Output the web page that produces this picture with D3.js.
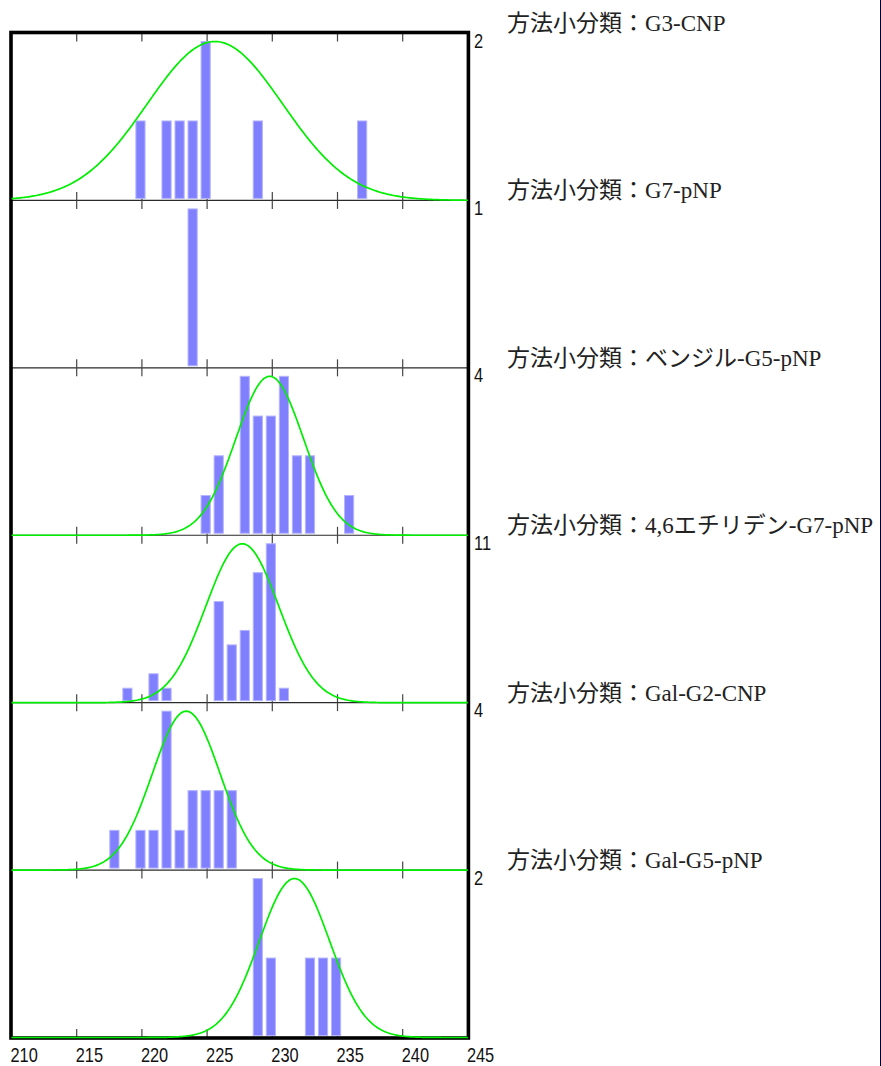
<!DOCTYPE html>
<html>
<head>
<meta charset="utf-8">
<script src="https://cdn.jsdelivr.net/npm/d3@7"></script>
<style>
  html, body { margin: 0; padding: 0; background: #fff; }
  svg { display: block; }
  .num { font-family: "Liberation Sans", "DejaVu Sans", sans-serif; font-size: 20px; fill: #111; }
  .method { font-family: "Liberation Serif", "Noto Sans CJK JP", serif; font-size: 23px; fill: #222; }
</style>
</head>
<body>
<svg id="chart" width="881" height="1066"></svg>
<script>
// Method sub-categories (one histogram panel each)
const methodNames = ["G3-CNP", "G7-pNP", "ベンジル-G5-pNP", "4,6エチリデン-G7-pNP", "Gal-G2-CNP", "Gal-G5-pNP"];
const labelPrefix = "方法小分類：";

// Histogram bins (measured value) and counts per method
const g3cnpBins   = [220, 222, 223, 224, 225, 229, 237];
const g3cnpCounts = [1, 1, 1, 1, 2, 1, 1];

const g7pnpBins   = [224];
const g7pnpCounts = [1];

const benzylBins   = [225, 226, 228, 229, 230, 231, 232, 233, 236];
const benzylCounts = [1, 2, 4, 3, 3, 4, 2, 2, 1];

const ethylideneBins   = [219, 221, 222, 226, 227, 228, 229, 230, 231];
const ethylideneCounts = [1, 2, 1, 7, 4, 5, 9, 11, 1];

const galG2Bins   = [218, 220, 221, 222, 223, 224, 225, 226, 227];
const galG2Counts = [1, 1, 1, 4, 1, 2, 2, 2, 2];

const galG5Bins   = [229, 230, 233, 234, 235];
const galG5Counts = [2, 1, 1, 1, 1];

// Fitted normal curve parameters (null = no curve drawn)
const fitMeans = [225.6, null, 229.8, 227.7, 223.4, 231.7];
const fitSDs   = [5.2,   null, 2.6,   2.8,   2.6,   2.7];

// Shared x axis ticks
const xTicks = [210, 215, 220, 225, 230, 235, 240, 245];

const panelBins   = [g3cnpBins, g7pnpBins, benzylBins, ethylideneBins, galG2Bins, galG5Bins];
const panelCounts = [g3cnpCounts, g7pnpCounts, benzylCounts, ethylideneCounts, galG2Counts, galG5Counts];

const svg = d3.select("#chart");
svg.append("rect").attr("width", 881).attr("height", 1066).attr("fill", "#fff");

const plotLeft = 11.5, plotRight = 467.9, plotTop = 33, plotBottom = 1037.5;
const nPanels = methodNames.length;
const panelH = (plotBottom - plotTop) / nPanels;
const narrow = 0.82; // horizontal squeeze for the condensed numerals

const x = d3.scaleLinear().domain([210, 245]).range([plotLeft, plotRight]);

const gGrid = svg.append("g");
const gBars = svg.append("g");
const gFrame = svg.append("g");
const gCurves = svg.append("g");
const gText = svg.append("g");

const innerTicks = xTicks.filter(t => t > 210 && t < 245);

for (let i = 0; i < nPanels; i++) {
  const top = plotTop + i * panelH;
  const bottom = top + panelH;
  const bins = panelBins[i];
  const counts = panelCounts[i];
  const maxCount = d3.max(counts);

  const y = d3.scaleLinear().domain([0, maxCount]).range([bottom, top + 8.5]);

  // panel divider
  if (i < nPanels - 1) {
    gGrid.append("line")
      .attr("x1", plotLeft).attr("x2", plotRight)
      .attr("y1", bottom).attr("y2", bottom)
      .attr("stroke", "#2a2a2a").attr("stroke-width", 1.2);
  }

  // tick marks at the top and bottom of each panel
  gGrid.selectAll(null).data(innerTicks).enter().append("line")
    .attr("x1", d => x(d)).attr("x2", d => x(d))
    .attr("y1", top).attr("y2", top + 8.5)
    .attr("stroke", "#444").attr("stroke-width", 1.2);
  gGrid.selectAll(null).data(innerTicks).enter().append("line")
    .attr("x1", d => x(d)).attr("x2", d => x(d))
    .attr("y1", bottom - 8.5).attr("y2", bottom)
    .attr("stroke", "#444").attr("stroke-width", 1.2);

  // histogram bars
  const data = bins.map((b, k) => ({ v: b, c: counts[k] }));
  gBars.selectAll(null).data(data).enter().append("rect")
    .attr("x", d => x(d.v - 0.5) + 0.5)
    .attr("width", d => x(d.v + 0.28) - x(d.v - 0.5) - 1)
    .attr("y", d => y(d.c))
    .attr("height", d => y(0) - 2 - y(d.c))
    .attr("fill", "#8080ff")
    .attr("stroke", "#b4b4ff")
    .attr("stroke-width", 1);

  // fitted normal curve, scaled so its peak equals the largest count
  if (fitMeans[i] !== null) {
    const m = fitMeans[i], s = fitSDs[i];
    const pts = d3.range(210, 245.001, 0.1).map(v => [v, maxCount * Math.exp(-0.5 * ((v - m) / s) ** 2)]);
    gCurves.append("path")
      .datum(pts)
      .attr("d", d3.line().x(d => x(d[0])).y(d => y(d[1])))
      .attr("fill", "none")
      .attr("stroke", "#00ee00")
      .attr("stroke-width", 1.7);
  }

  // maximum count on the right edge
  gText.append("text").attr("class", "num")
    .attr("transform", `translate(474,${top + 14.5}) scale(${narrow},1)`)
    .text(maxCount);

  // method label
  gText.append("text").attr("class", "method")
    .attr("x", 507).attr("y", top - 2)
    .text(labelPrefix + methodNames[i]);
}

// outer frame
gFrame.append("rect")
  .attr("x", plotLeft - 0.5).attr("y", plotTop - 0.5)
  .attr("width", plotRight - plotLeft + 1).attr("height", plotBottom - plotTop + 1)
  .attr("fill", "none").attr("stroke", "#000").attr("stroke-width", 3.6);

// x tick labels, left-aligned at each tick
gText.selectAll(null).data(xTicks).enter().append("text")
  .attr("class", "num")
  .attr("transform", d => `translate(${x(d) - 1},1062) scale(${narrow},1)`)
  .text(d => d);

// right edge rule
svg.append("line")
  .attr("x1", 880.5).attr("x2", 880.5).attr("y1", 0).attr("y2", 1066)
  .attr("stroke", "#000033").attr("stroke-width", 1);
</script>
</body>
</html>
